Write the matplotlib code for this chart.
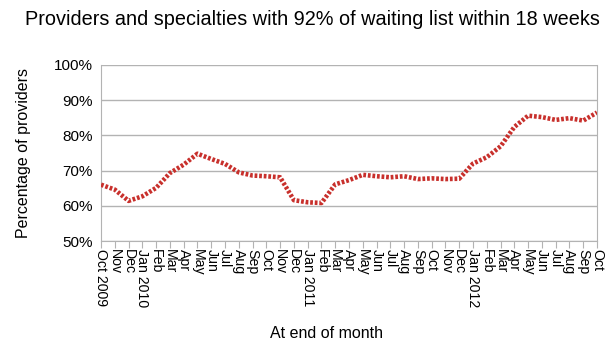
import matplotlib
matplotlib.use('Agg')
import matplotlib.pyplot as plt
from matplotlib.ticker import FuncFormatter

plt.rcParams['font.family'] = ['Liberation Sans', 'DejaVu Sans']

# Месяцы: Oct 2009 .. Oct 2012
months = ['Oct 2009', 'Nov', 'Dec', 'Jan 2010', 'Feb', 'Mar', 'Apr', 'May', 'Jun', 'Jul', 'Aug', 'Sep',
          'Oct', 'Nov', 'Dec', 'Jan 2011', 'Feb', 'Mar', 'Apr', 'May', 'Jun', 'Jul', 'Aug', 'Sep',
          'Oct', 'Nov', 'Dec', 'Jan 2012', 'Feb', 'Mar', 'Apr', 'May', 'Jun', 'Jul', 'Aug', 'Sep',
          'Oct']
# Доля провайдеров, %
pct = [66.0, 64.6, 61.4, 62.7, 65.1, 69.3, 71.7, 74.8, 73.3, 71.9, 69.5, 68.6,
       68.4, 68.1, 61.6, 61.0, 60.8, 66.1, 67.3, 68.8, 68.4, 68.1, 68.4, 67.6,
       67.8, 67.6, 67.7, 72.0, 73.8, 76.9, 82.4, 85.6, 85.2, 84.4, 84.9, 84.2,
       86.5]

x = list(range(len(months)))

fig = plt.figure(figsize=(6.1, 3.5), dpi=100)
ax = fig.add_axes([0.1656, 0.3114, 0.8131, 0.5029])

ax.plot(x, pct, color='#c8302c', linestyle=(0, (0.6, 0.4)), linewidth=3.3, zorder=3)

ax.set_xlim(0, len(months) - 1)
ax.set_ylim(50, 100)
ax.set_yticks([50, 60, 70, 80, 90, 100])
ax.yaxis.set_major_formatter(FuncFormatter(lambda v, p: '%d%%' % v))
ax.set_xticks(x)
ax.set_xticklabels(months, rotation=270, ha='center', va='top', fontsize=10.2)
ax.tick_params(axis='y', labelsize=11, length=0, pad=6)
ax.tick_params(axis='x', length=5, color='#b3b3b3', pad=1)

ax.grid(axis='y', color='#b3b3b3', linewidth=1)
for s in ['left', 'right', 'bottom']:
    ax.spines[s].set_color('#b3b3b3')
ax.spines['top'].set_visible(False)

fig.text(0.512, 0.943, 'Providers and specialties with 92% of waiting list within 18 weeks',
         ha='center', va='center', fontsize=14.3)
ax.set_ylabel('Percentage of providers', fontsize=11.5, labelpad=16)
fig.text(0.536, 0.048, 'At end of month', ha='center', va='center', fontsize=11.5)

plt.savefig('out.png', dpi=100)
